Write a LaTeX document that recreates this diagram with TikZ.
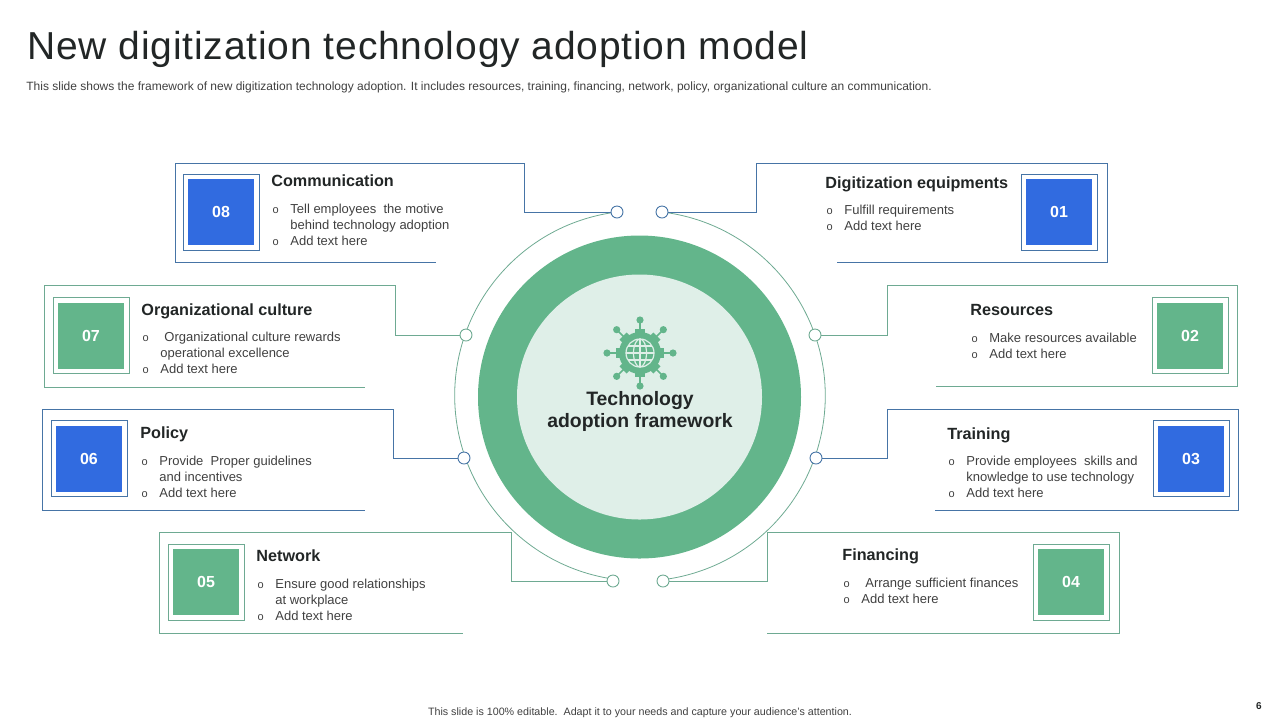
\documentclass[tikz,border=0pt]{standalone}
\usepackage{fontspec}
\setmainfont{Liberation Sans}
\newfontfamily\headfont[LetterSpace=2.15]{Liberation Sans}
\usepackage{tikz}
\usetikzlibrary{backgrounds}
\definecolor{adoptgreen}{RGB}{99,181,139}
\definecolor{adoptblue}{RGB}{49,107,224}
\definecolor{adoptpale}{RGB}{223,239,232}
\definecolor{wireblue}{RGB}{70,116,166}
\definecolor{wiregreen}{RGB}{110,170,146}
\definecolor{adoptink}{RGB}{34,38,38}
\definecolor{adoptbody}{RGB}{64,64,64}
\newcommand{\blt}[1][9.5pt]{\makebox[#1][l]{\hspace*{0.6pt}\fontsize{5.5}{8}\selectfont o}}
\newcommand{\hng}[1][9.5pt]{\hspace*{#1}}
\begin{document}
\begin{tikzpicture}[
  x=0.5pt,y=-0.5pt,
  numblue/.style={fill=adoptblue,text=white,font=\fontsize{8}{10}\selectfont\bfseries,minimum size=33pt,inner sep=0pt},
  numgreen/.style={numblue,fill=adoptgreen},
  rimblue/.style={draw=wireblue,line width=0.4pt,minimum size=38pt,inner sep=0pt},
  rimgreen/.style={rimblue,draw=wiregreen},
  wblue/.style={draw=wireblue,line width=0.4pt},
  wgreen/.style={draw=wiregreen,line width=0.4pt},
  dotblue/.style={circle,draw=wireblue,fill=white,line width=0.45pt,minimum size=6pt,inner sep=0pt},
  dotgreen/.style={dotblue,draw=wiregreen},
  head/.style={anchor=west,inner sep=0pt,yshift=-0.3pt,text=adoptink,font=\fontsize{8.1}{10}\selectfont\bfseries,text height=6pt,text depth=1.6pt},
  body/.style={anchor=north west,inner sep=0pt,yshift=-0.4pt,align=left,text=adoptbody,font=\fontsize{6.5}{8}\selectfont},
  globe/.style={draw=adoptpale,line width=0.6pt}
]
\useasboundingbox (0,0) rectangle (1280,720);

\node[anchor=west,inner sep=0pt,text=adoptink,font=\fontsize{19.5}{22}\selectfont\headfont] (title) at (27,49) {New digitization technology adoption model};
\node[anchor=west,inner sep=0pt,text=adoptbody,font=\fontsize{6}{8}\selectfont] (sub) at (26,87) {This slide shows the framework of new digitization technology adoption. It includes resources, training, financing, network, policy, organizational culture an communication.};
\node[inner sep=0pt,text=adoptbody,font=\fontsize{5.35}{8}\selectfont] (foot) at (640,713) {This slide is 100\% editable.\ \ Adapt it to your needs and capture your audience's attention.};
\node[inner sep=0pt,text=adoptink,font=\fontsize{5}{8}\selectfont\bfseries] (page) at (1259,706) {6};

% centre
\coordinate (hub) at (640,353);
\node[circle,fill=adoptgreen,minimum size=161.5pt,inner sep=0pt] (ring) at (639.5,397) {};
\node[circle,fill=adoptpale,minimum size=122.5pt,inner sep=0pt] (core) at (639.5,397) {};
\foreach \a in {0,45,...,315}{
  \draw[adoptgreen,line width=0.8pt] (hub) -- ++(\a:33);
  \fill[adoptgreen] (hub) ++(\a:33) circle (3.6);
  \draw[adoptgreen,line width=5pt] (hub) -- ++(\a:24);
}
\fill[adoptgreen] (hub) circle (21);
\draw[globe] (hub) circle (14);
\draw[globe] (hub) ellipse (6.5 and 14);
\draw[globe] (hub) ++(-14,0) -- ++(28,0);
\draw[globe] (hub) ++(-12,-7) -- ++(24,0);
\draw[globe] (hub) ++(-12,7) -- ++(24,0);
\draw[globe] (hub) ++(0,-14) -- ++(0,28);
\node[align=center,inner sep=0pt,text=adoptink,font=\fontsize{9.7}{10.8}\selectfont\bfseries] (corelabel) at (640,411.5) {Technology\\adoption framework};

% dots
\node[dotblue] (dot08) at (617,212) {};
\node[dotblue] (dot01) at (662,212) {};
\node[dotgreen] (dot07) at (466,335) {};
\node[dotgreen] (dot02) at (815,335) {};
\node[dotblue] (dot06) at (464,458) {};
\node[dotblue] (dot03) at (816,458) {};
\node[dotgreen] (dot05) at (613,581) {};
\node[dotgreen] (dot04) at (663,581) {};
\begin{scope}[on background layer]
\draw[wgreen] (dot08) arc[start angle=262.9,end angle=98.3,radius=185.2];
\draw[wgreen] (dot01) arc[start angle=-83.2,end angle=82.9,radius=185.2];
\end{scope}

% frames
\coordinate (top08) at (524,163);
\coordinate (low08) at (175,262);
\coordinate (end08) at (436,262);
\draw[wblue] (dot08) -| (top08) -| (low08) -- (end08);
\coordinate (top01) at (756,163);
\coordinate (low01) at (1107,262);
\coordinate (end01) at (837,262);
\draw[wblue] (dot01) -| (top01) -| (low01) -- (end01);
\coordinate (top07) at (395,285);
\coordinate (low07) at (44,387);
\coordinate (end07) at (365,387);
\draw[wgreen] (dot07) -| (top07) -| (low07) -- (end07);
\coordinate (top02) at (887,285);
\coordinate (low02) at (1237,386);
\coordinate (end02) at (936,386);
\draw[wgreen] (dot02) -| (top02) -| (low02) -- (end02);
\coordinate (top06) at (393,409);
\coordinate (low06) at (42,510);
\coordinate (end06) at (365,510);
\draw[wblue] (dot06) -| (top06) -| (low06) -- (end06);
\coordinate (top03) at (887,409);
\coordinate (low03) at (1238,510);
\coordinate (end03) at (935,510);
\draw[wblue] (dot03) -| (top03) -| (low03) -- (end03);
\coordinate (top05) at (511,532);
\coordinate (low05) at (159,633);
\coordinate (end05) at (463,633);
\draw[wgreen] (dot05) -| (top05) -| (low05) -- (end05);
\coordinate (top04) at (767,532);
\coordinate (low04) at (1119,633);
\coordinate (end04) at (767,633);
\draw[wgreen] (dot04) -| (top04) -| (low04) -- (end04);

% number squares
\node[rimblue] (rim08) at (221,212) {};
\node[numblue] (num08) at (221,212) {08};
\node[rimblue] (rim01) at (1059,212) {};
\node[numblue] (num01) at (1059,212) {01};
\node[rimgreen] (rim07) at (91,335.5) {};
\node[numgreen] (num07) at (91,335.5) {07};
\node[rimgreen] (rim02) at (1190,335.5) {};
\node[numgreen] (num02) at (1190,335.5) {02};
\node[rimblue] (rim06) at (89,458.5) {};
\node[numblue] (num06) at (89,458.5) {06};
\node[rimblue] (rim03) at (1191,458.5) {};
\node[numblue] (num03) at (1191,458.5) {03};
\node[rimgreen] (rim05) at (206,582) {};
\node[numgreen] (num05) at (206,582) {05};
\node[rimgreen] (rim04) at (1071,582) {};
\node[numgreen] (num04) at (1071,582) {04};

% panel texts
\node[head] (head08) at (271,181) {Communication};
\node[body] (body08) at (271,202.5) {\blt Tell employees\ \ the motive\\\hng behind technology adoption\\\blt Add text here};
\node[head] (head01) at (825,183) {Digitization equipments};
\node[body] (body01) at (825,203.5) {\blt Fulfill requirements\\\blt Add text here};
\node[head] (head07) at (141,310) {Organizational culture};
\node[body] (body07) at (141,330.5) {\blt[11.5pt]Organizational culture rewards\\\hng operational excellence\\\blt Add text here};
\node[head] (head02) at (970,310) {Resources};
\node[body] (body02) at (970,331.5) {\blt Make resources available\\\blt Add text here};
\node[head] (head06) at (140,433) {Policy};
\node[body] (body06) at (140,454.5) {\blt Provide\ \ Proper guidelines\\\hng and incentives\\\blt Add text here};
\node[head] (head03) at (947,434) {Training};
\node[body] (body03) at (947,454.5) {\blt Provide employees\ \ skills and\\\hng knowledge to use technology\\\blt Add text here};
\node[head] (head05) at (256,556) {Network};
\node[body] (body05) at (256,577.5) {\blt Ensure good relationships\\\hng at workplace\\\blt Add text here};
\node[head] (head04) at (842,555) {Financing};
\node[body] (body04) at (842,576.5) {\blt[11.5pt]Arrange sufficient finances\\\blt Add text here};
\end{tikzpicture}
\end{document}
